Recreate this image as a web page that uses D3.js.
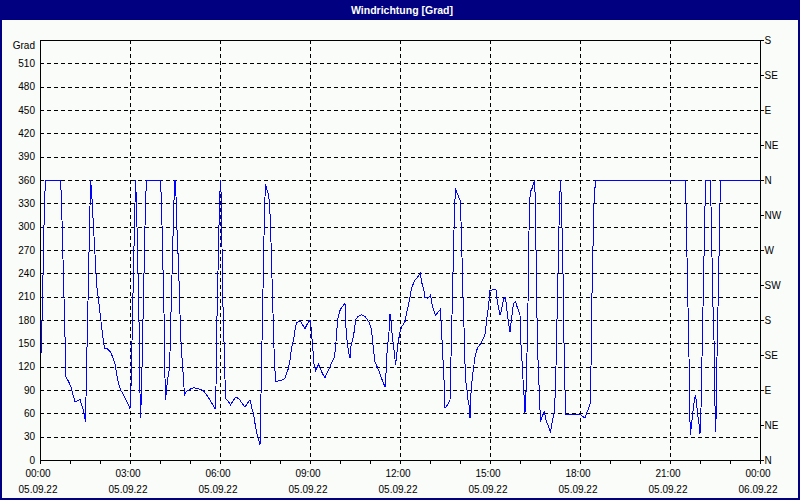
<!DOCTYPE html>
<html>
<head>
<meta charset="utf-8">
<script src="https://cdn.jsdelivr.net/npm/d3@7"></script>
<style>
  body { margin: 0; background: #ffffff; }
  svg { display: block; font-family: "Liberation Sans", Arial, sans-serif; }
</style>
</head>
<body>
<div id="chart"></div>
<script>
// Minutes since 05.09.22 00:00 and wind direction in degrees
const minutes = [0,2,5,7,9,11,41,43,45,47,49,51,52,57,62,65,70,75,80,83,87,91,92,94,96,98,100,101,103,105,107,109,111,113,117,121,125,129,135,141,145,150,153,157,161,167,172,177,180,182,184,186,188,190,191,193,195,197,199,200,201,203,205,207,209,211,213,241,243,245,247,249,250,251,253,255,258,260,262,264,266,268,270,272,274,277,279,281,283,285,287,289,293,300,307,313,320,327,333,340,350,352,353,355,357,359,361,363,364,365,367,369,371,377,381,387,392,399,404,410,415,420,424,427,430,433,437,440,441,443,445,447,449,451,453,457,459,461,463,465,467,469,472,479,485,490,493,497,500,503,507,510,513,520,527,530,533,540,542,545,548,551,557,565,570,573,579,583,588,590,592,594,596,599,603,607,610,611,614,617,620,622,625,629,631,635,643,651,655,659,663,665,667,670,677,683,690,692,694,697,699,700,702,704,706,709,711,713,715,717,720,723,727,730,733,737,740,743,747,750,755,761,763,767,770,775,779,781,784,787,791,795,801,802,804,806,808,810,813,817,820,821,823,825,827,829,831,833,837,840,842,844,846,848,850,852,854,856,858,860,862,865,867,869,872,875,882,885,889,891,893,897,900,908,912,915,917,920,923,925,928,931,933,937,940,942,945,947,951,953,957,960,962,965,967,969,970,971,973,974,976,977,979,981,984,987,989,991,993,996,999,1001,1003,1007,1009,1012,1017,1021,1024,1028,1031,1033,1035,1037,1039,1041,1043,1045,1047,1048,1050,1051,1063,1077,1080,1085,1090,1093,1097,1100,1101,1103,1104,1106,1108,1111,1290,1292,1294,1296,1298,1299,1301,1303,1305,1307,1309,1311,1313,1315,1318,1320,1322,1324,1326,1328,1330,1332,1340,1342,1344,1346,1349,1350,1351,1353,1354,1356,1358,1360,1361,1440];
const degrees = [73,137,201,272,330,360,360,334,284,233,184,133,107,101,94,86,75,76,78,71,64,49,81,144,204,266,326,360,347,324,300,276,253,227,206,184,161,144,143,139,133,124,111,99,90,84,77,71,66,94,152,214,274,330,360,330,270,210,146,86,54,86,150,210,270,330,360,360,330,274,216,163,105,77,90,103,114,139,189,238,287,334,360,339,296,251,210,165,139,124,103,84,88,91,93,92,91,89,84,77,66,94,154,214,272,330,360,330,274,219,176,129,79,75,71,77,81,78,73,68,73,77,66,60,47,36,28,19,51,118,186,253,321,355,349,341,330,304,257,212,167,122,101,102,103,105,111,118,129,144,154,167,176,179,172,169,173,180,171,148,124,115,123,111,106,111,118,125,131,139,152,169,182,191,196,199,201,178,154,139,131,146,154,167,180,184,187,184,180,176,167,154,141,126,116,105,94,111,137,159,171,188,180,163,152,137,122,133,144,154,164,171,175,178,189,199,210,221,227,231,235,240,229,221,209,208,210,212,201,193,186,189,194,180,154,129,103,67,69,73,77,105,159,214,269,321,349,345,339,334,307,261,210,171,124,99,90,77,71,54,86,109,116,129,138,144,150,154,159,165,180,197,218,219,219,201,197,186,193,201,208,209,197,176,165,176,191,201,204,199,193,186,148,118,90,77,60,86,90,137,201,257,330,345,349,355,360,330,210,129,81,49,54,60,62,51,43,36,47,60,90,150,210,270,330,360,330,270,210,150,90,58,59,58,59,56,54,60,66,71,90,150,214,274,330,360,360,330,261,197,133,66,32,47,56,69,77,84,73,60,47,34,66,133,197,261,326,360,360,326,261,197,133,69,36,69,133,197,261,330,360,360];

const leftTicks = [0,30,60,90,120,150,180,210,240,270,300,330,360,390,420,450,480,510,540];
const compassTicks = [0,45,90,135,180,225,270,315,360,405,450,495,540];
const compassLabels = ["N","NE","E","SE","S","SW","W","NW","N","NE","E","SE","S"];
const labelHours = [0,3,6,9,12,15,18,21,24];
const timeLabels = ["00:00","03:00","06:00","09:00","12:00","15:00","18:00","21:00","00:00"];
const dateLabels = ["05.09.22","05.09.22","05.09.22","05.09.22","05.09.22","05.09.22","05.09.22","05.09.22","06.09.22"];

const W = 800, H = 500;
const plot = { left: 40, right: 760, top: 40, bottom: 460 };
const day0 = new Date(2022, 8, 5, 0, 0);

const data = minutes.map((m, i) => ({ t: new Date(day0.getTime() + m * 60000), v: degrees[i] }));

const x = d3.scaleTime()
    .domain([day0, d3.timeDay.offset(day0, 1)])
    .range([plot.left, plot.right]);

const y = d3.scaleLinear()
    .domain([0, 540])
    .range([plot.bottom, plot.top]);

const svg = d3.select("#chart").append("svg")
    .attr("width", W)
    .attr("height", H);

// background + frame
svg.append("rect")
    .attr("width", W).attr("height", H)
    .attr("fill", "#f9fcf9");

svg.append("rect")
    .attr("x", 1).attr("y", 1)
    .attr("width", W - 2).attr("height", H - 2)
    .attr("fill", "none")
    .attr("stroke", "#000080")
    .attr("stroke-width", 2);

// title bar
svg.append("rect")
    .attr("width", W).attr("height", 20)
    .attr("fill", "#000080");

svg.append("text")
    .attr("x", W / 2 + 2).attr("y", 14)
    .attr("text-anchor", "middle")
    .attr("fill", "#ffffff")
    .style("font-size", "10.5px")
    .style("font-weight", "bold")
    .text("Windrichtung [Grad]");

// gridlines
const grid = svg.append("g")
    .attr("stroke", "#000")
    .attr("stroke-width", 1)
    .attr("stroke-dasharray", "4,3")
    .attr("shape-rendering", "crispEdges");

grid.selectAll(".hgrid")
    .data(leftTicks.filter(d => d > 0 && d < 540))
    .enter().append("line")
    .attr("x1", plot.left).attr("x2", plot.right)
    .attr("y1", d => Math.round(y(d)) + 0.5)
    .attr("y2", d => Math.round(y(d)) + 0.5);

grid.selectAll(".vgrid")
    .data(labelHours.filter(h => h > 0 && h < 24))
    .enter().append("line")
    .attr("x1", h => Math.round(x(d3.timeHour.offset(day0, h))) + 0.5)
    .attr("x2", h => Math.round(x(d3.timeHour.offset(day0, h))) + 0.5)
    .attr("y1", plot.top).attr("y2", plot.bottom);

// the wind direction line (aliased like the original)
const line = d3.line()
    .x(d => x(d.t))
    .y(d => y(d.v));

svg.append("path")
    .datum(data)
    .attr("fill", "none")
    .attr("stroke", "#0000ff")
    .attr("stroke-width", 1)
    .attr("shape-rendering", "crispEdges")
    .attr("d", line);

// plot frame
svg.append("rect")
    .attr("x", plot.left + 0.5).attr("y", plot.top + 0.5)
    .attr("width", plot.right - plot.left).attr("height", plot.bottom - plot.top)
    .attr("fill", "none")
    .attr("stroke", "#000")
    .attr("shape-rendering", "crispEdges");

// left axis
const leftAxis = svg.append("g")
    .attr("transform", "translate(" + plot.left + ",0)")
    .call(d3.axisLeft(y)
        .tickValues(leftTicks)
        .tickSize(0)
        .tickPadding(5)
        .tickFormat(d => d === 540 ? "Grad" : d));
leftAxis.select(".domain").remove();
leftAxis.selectAll("text")
    .style("font-size", "10px")
    .attr("fill", "#000")
    .attr("dy", d => d === 540 ? "0.85em" : "0.32em");

// right axis (compass)
const rightAxis = svg.append("g")
    .attr("transform", "translate(" + (plot.right + 0.5) + ",0)")
    .call(d3.axisRight(y)
        .tickValues(compassTicks)
        .tickSize(3)
        .tickPadding(1)
        .tickFormat((d, i) => compassLabels[i]));
rightAxis.select(".domain").remove();
rightAxis.selectAll("line").attr("shape-rendering", "crispEdges");
rightAxis.selectAll("text").style("font-size", "10px").attr("fill", "#000");

// bottom axis, hourly ticks
const bottomAxis = svg.append("g")
    .attr("transform", "translate(0," + (plot.bottom + 0.5) + ")")
    .call(d3.axisBottom(x)
        .ticks(d3.timeHour.every(1))
        .tickSize(3)
        .tickFormat(""));
bottomAxis.select(".domain").remove();
bottomAxis.selectAll("line").attr("shape-rendering", "crispEdges");

// two-line labels every 3 hours
const labels = svg.append("g")
    .style("font-size", "10px")
    .attr("text-anchor", "middle")
    .attr("fill", "#000");

labels.selectAll(".tl")
    .data(labelHours)
    .enter().append("text")
    .attr("x", h => x(d3.timeHour.offset(day0, h)) - 2)
    .attr("y", 477)
    .text((h, i) => timeLabels[i]);

labels.selectAll(".dl")
    .data(labelHours)
    .enter().append("text")
    .attr("x", h => x(d3.timeHour.offset(day0, h)) - 2)
    .attr("y", 493)
    .text((h, i) => dateLabels[i]);
</script>
</body>
</html>
